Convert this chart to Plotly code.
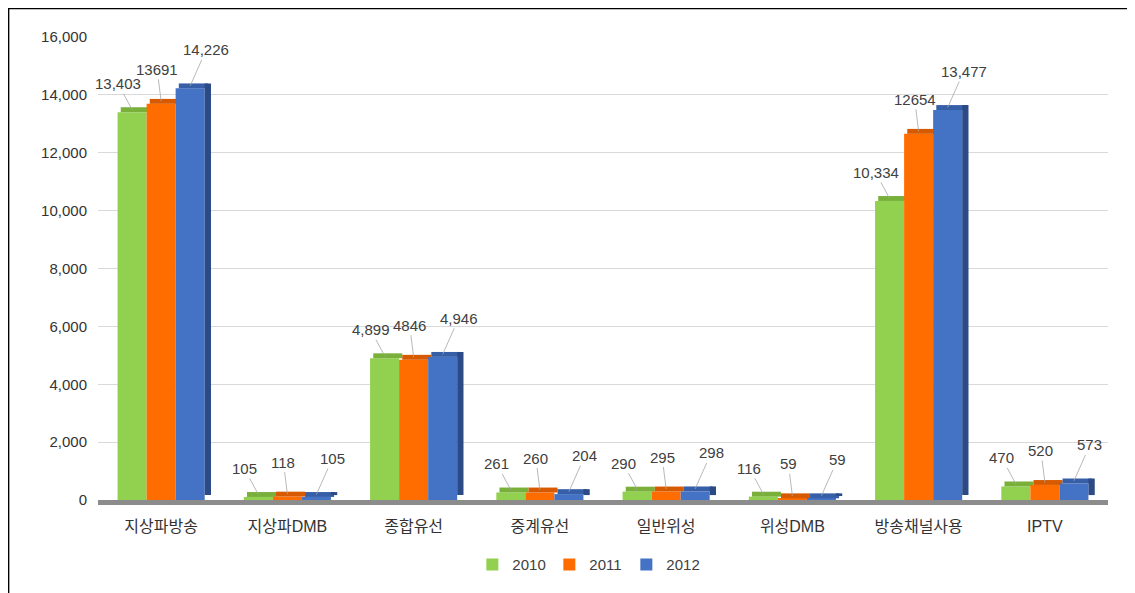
import plotly.graph_objects as go

categories = ["지상파방송", "지상파DMB", "종합유선", "중계유선", "일반위성", "위성DMB", "방송채널사용", "IPTV"]
years = ["2010", "2011", "2012"]
values_2010 = [13403, 105, 4899, 261, 290, 116, 10334, 470]
values_2011 = [13691, 118, 4846, 260, 295, 59, 12654, 520]
values_2012 = [14226, 105, 4946, 204, 298, 59, 13477, 573]
y_ticks = [0, 2000, 4000, 6000, 8000, 10000, 12000, 14000, 16000]

series = [values_2010, values_2011, values_2012]
front_colors = ["#92D050", "#FF6D00", "#4472C4"]
top_colors = ["#78B03A", "#D85A00", "#365FA8"]
side_color = "#2B4A86"
label_fmt = ["{:,}", "{}", "{:,}"]
label_off = [(-14, -26), (-4, -32), (16, -36)]

BW = 0.23
TOPH = 170  # depth of top face in data units (visual)
FONT = "Liberation Sans, Noto Sans CJK KR, sans-serif"

fig = go.Figure()
idx = list(range(len(categories)))
for k, (yr, vals) in enumerate(zip(years, series)):
    off = -1.5 * BW + k * BW
    fig.add_trace(go.Bar(x=idx, y=vals, width=BW, offset=off, name=yr,
                         marker=dict(color=front_colors[k], line=dict(width=0)),
                         hoverinfo="skip"))
    fig.add_trace(go.Bar(x=idx, y=[TOPH] * len(vals), base=vals, width=BW, offset=off + 0.025,
                         marker=dict(color=top_colors[k], line=dict(width=0)),
                         showlegend=False, hoverinfo="skip"))
# side face of last bar in each group
fig.add_trace(go.Bar(x=idx, y=values_2012, base=[TOPH] * len(values_2012), width=0.05,
                     offset=1.5 * BW, marker=dict(color=side_color, line=dict(width=0)),
                     showlegend=False, hoverinfo="skip"))

annotations = []
for k, vals in enumerate(series):
    cx = -1.5 * BW + k * BW + BW / 2
    for i, v in enumerate(vals):
        annotations.append(dict(x=i + cx, y=v + TOPH / 2, xref="x", yref="y",
                                text=label_fmt[k].format(v), showarrow=True, arrowhead=0,
                                arrowwidth=0.8, arrowcolor="#a6a6a6",
                                ax=label_off[k][0], ay=label_off[k][1],
                                font=dict(family=FONT, size=15, color="#404040")))

fig.update_layout(
    width=1127, height=585,
    barmode="overlay",
    paper_bgcolor="white", plot_bgcolor="white",
    margin=dict(l=90, r=27, t=29, b=93),
    showlegend=True,
    legend=dict(orientation="h", x=0.485, xanchor="center", y=-0.14, yanchor="middle",
                font=dict(family=FONT, size=15, color="#404040"), itemwidth=30,
                entrywidth=32, traceorder="normal"),
    xaxis=dict(tickmode="array", tickvals=idx, ticktext=categories, range=[-0.5, 7.5],
               showgrid=False, showline=True, linecolor="#8c8c8c", linewidth=5,
               tickfont=dict(family=FONT, size=16, color="#333333"), ticks="",
               ticklabelstandoff=8),
    yaxis=dict(range=[0, 16000], tickvals=y_ticks, tickformat=",",
               showgrid=True, gridcolor="#d9d9d9", gridwidth=1, zeroline=False,
               tickfont=dict(family=FONT, size=15, color="#333333"), ticklabelstandoff=10),
    annotations=annotations,
    shapes=[dict(type="rect", xref="paper", yref="paper",
                 x0=-90 / 1010 + 0.0006, x1=1.05, y0=-0.3, y1=1 + 29 / 463 - 0.001,
                 line=dict(color="#000000", width=1.5), fillcolor="rgba(0,0,0,0)", layer="above")],
)

fig.write_html("out.html")
